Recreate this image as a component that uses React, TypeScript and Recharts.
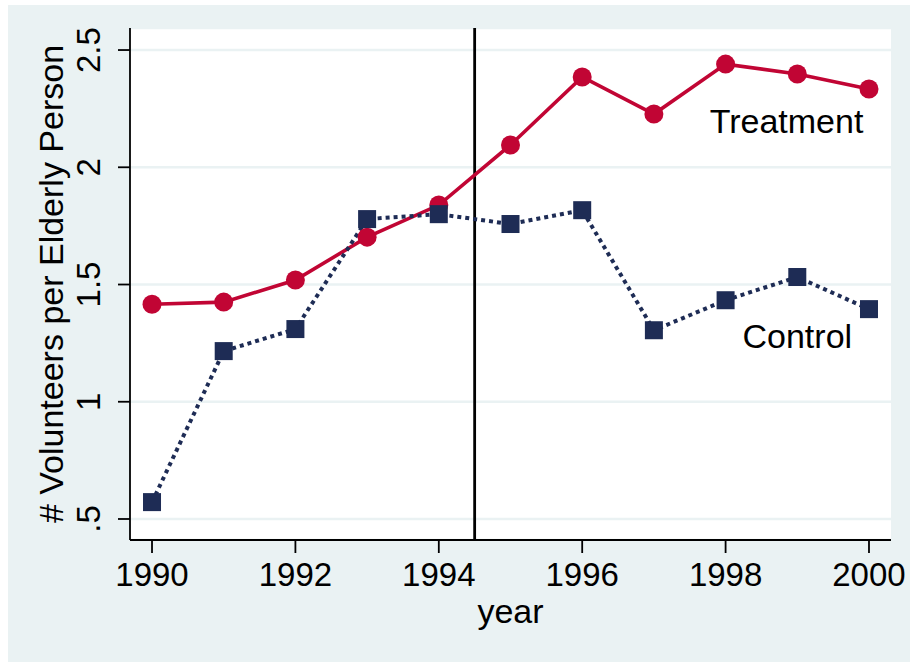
import React from "react";
import {
  LineChart,
  Line,
  XAxis,
  YAxis,
  CartesianGrid,
  ReferenceLine,
  ReferenceDot,
} from "recharts";

const years = [1990, 1991, 1992, 1993, 1994, 1995, 1996, 1997, 1998, 1999, 2000];
const treatment = [1.416, 1.425, 1.519, 1.702, 1.839, 2.095, 2.385, 2.227, 2.44, 2.398, 2.334];
const control = [0.572, 1.216, 1.31, 1.779, 1.8, 1.758, 1.817, 1.305, 1.433, 1.532, 1.395];
const xTicks = [1990, 1992, 1994, 1996, 1998, 2000];
const yTicks = [0.5, 1, 1.5, 2, 2.5];
const yTickLabels = [".5", "1", "1.5", "2", "2.5"];
const treatmentLabel = { text: "Treatment", x: 1998.85, y: 2.146 };
const controlLabel = { text: "Control", x: 1999.0, y: 1.229 };
const policyYear = 1994.5;

const data = years.map((year, i) => ({
  year,
  treatment: treatment[i],
  control: control[i],
}));

const FONT = "'Liberation Sans', Arial, sans-serif";
const RED = "#C10534";
const NAVY = "#1E2C55";
const BG = "#EAF2F3";

const XTick = (props: any) => {
  const { x, y, payload } = props;
  return (
    <text x={x} y={y + 33} textAnchor="middle" fontSize={33} fontFamily={FONT} fill="#000">
      {payload.value}
    </text>
  );
};

const YTick = (props: any) => {
  const { x, y, payload } = props;
  const idx = yTicks.indexOf(payload.value);
  const label = idx >= 0 ? yTickLabels[idx] : String(payload.value);
  const tx = x - 18;
  return (
    <text
      x={tx}
      y={y}
      transform={`rotate(-90, ${tx}, ${y})`}
      textAnchor="middle"
      fontSize={33}
      fontFamily={FONT}
      fill="#000"
    >
      {label}
    </text>
  );
};

const SquareDot = (props: any) => {
  const { cx, cy } = props;
  if (cx == null || cy == null) return null;
  const s = 18;
  return <rect x={cx - s / 2} y={cy - s / 2} width={s} height={s} fill={NAVY} />;
};

const CircleDot = (props: any) => {
  const { cx, cy } = props;
  if (cx == null || cy == null) return null;
  return <circle cx={cx} cy={cy} r={9.5} fill={RED} />;
};

const annot = (text: string) => (props: any) => {
  const vb = props.viewBox || {};
  const cx = vb.cx != null ? vb.cx : vb.x;
  const cy = vb.cy != null ? vb.cy : vb.y;
  return (
    <text x={cx} y={cy} textAnchor="middle" fontSize={34} fontFamily={FONT} fill="#000">
      {text}
    </text>
  );
};

export default function App() {
  return (
    <div
      style={{
        position: "absolute",
        left: 8,
        top: 5,
        width: 902,
        height: 657,
        background: BG,
      }}
    >
      <LineChart
        width={902}
        height={657}
        data={data}
        margin={{ top: 23, right: 19, bottom: 42, left: 42 }}
      >
        <CartesianGrid
          horizontal={true}
          vertical={false}
          fill="#FFFFFF"
          stroke={BG}
          strokeWidth={2.5}
        />
        <XAxis
          dataKey="year"
          type="number"
          domain={[1989.693, 2000.307]}
          ticks={xTicks}
          height={80}
          tickSize={13}
          tickMargin={0}
          tick={<XTick />}
          axisLine={{ stroke: "#000", strokeWidth: 1.8 }}
          tickLine={{ stroke: "#000", strokeWidth: 1.8 }}
          allowDataOverflow
          label={{
            content: (p: any) => {
              const vb = p.viewBox;
              return (
                <text
                  x={vb.x + vb.width / 2}
                  y={vb.y + 83}
                  textAnchor="middle"
                  fontSize={34}
                  fontFamily={FONT}
                  fill="#000"
                >
                  year
                </text>
              );
            },
          }}
        />
        <YAxis
          type="number"
          domain={[0.4104, 2.594]}
          ticks={yTicks}
          width={80}
          tickSize={12}
          tickMargin={0}
          tick={<YTick />}
          axisLine={{ stroke: "#000", strokeWidth: 1.8 }}
          tickLine={{ stroke: "#000", strokeWidth: 1.8 }}
          allowDataOverflow
          label={{
            content: (p: any) => {
              const vb = p.viewBox;
              const tx = 55;
              const ty = vb.y + vb.height / 2;
              return (
                <text
                  x={tx}
                  y={ty}
                  transform={`rotate(-90, ${tx}, ${ty})`}
                  textAnchor="middle"
                  fontSize={34}
                  fontFamily={FONT}
                  fill="#000"
                >
                  # Volunteers per Elderly Person
                </text>
              );
            },
          }}
        />
        <ReferenceLine x={policyYear} stroke="#000" strokeWidth={2.8} />
        <Line
          dataKey="treatment"
          stroke={RED}
          strokeWidth={3.6}
          dot={<CircleDot />}
          activeDot={false}
          isAnimationActive={false}
        />
        <Line
          dataKey="control"
          stroke={NAVY}
          strokeWidth={4}
          strokeDasharray="4 4"
          dot={<SquareDot />}
          activeDot={false}
          isAnimationActive={false}
        />
        <ReferenceDot
          x={treatmentLabel.x}
          y={treatmentLabel.y}
          r={0}
          fill="none"
          stroke="none"
          label={{ content: annot(treatmentLabel.text) }}
        />
        <ReferenceDot
          x={controlLabel.x}
          y={controlLabel.y}
          r={0}
          fill="none"
          stroke="none"
          label={{ content: annot(controlLabel.text) }}
        />
      </LineChart>
    </div>
  );
}
